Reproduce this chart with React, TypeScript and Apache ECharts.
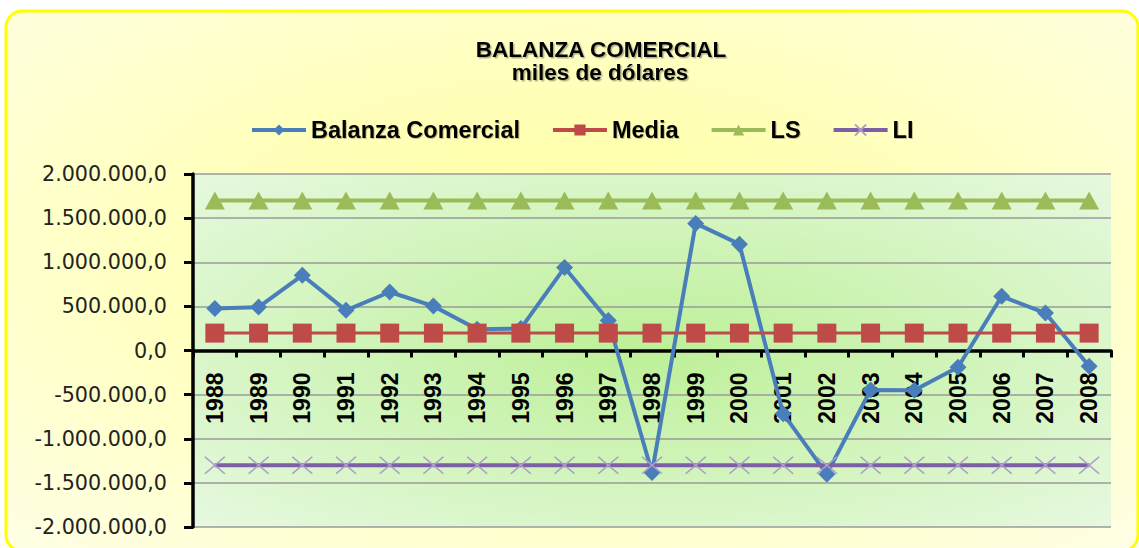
import React, { useEffect, useRef } from "react";
import * as echarts from "echarts";

const years = ["1988","1989","1990","1991","1992","1993","1994","1995","1996","1997","1998","1999","2000","2001","2002","2003","2004","2005","2006","2007","2008"];
const balanza = [475000, 492000, 852000, 455000, 663000, 503000, 240000, 250000, 940000, 340000, -1383000, 1440000, 1205000, -716000, -1401000, -447000, -450000, -190000, 614000, 424000, -178000];
const media = [197000, 197000, 197000, 197000, 197000, 197000, 197000, 197000, 197000, 197000, 197000, 197000, 197000, 197000, 197000, 197000, 197000, 197000, 197000, 197000, 197000];
const ls = [1700000, 1700000, 1700000, 1700000, 1700000, 1700000, 1700000, 1700000, 1700000, 1700000, 1700000, 1700000, 1700000, 1700000, 1700000, 1700000, 1700000, 1700000, 1700000, 1700000, 1700000];
const li = [-1300000, -1300000, -1300000, -1300000, -1300000, -1300000, -1300000, -1300000, -1300000, -1300000, -1300000, -1300000, -1300000, -1300000, -1300000, -1300000, -1300000, -1300000, -1300000, -1300000, -1300000];
const seriesNames = ["Balanza Comercial", "Media", "LS", "LI"];
const titleText = "BALANZA COMERCIAL";
const subtitleText = "miles de dólares";

function fmt(v: number): string {
  const neg = v < 0;
  const s = Math.abs(Math.round(v)).toString();
  const withDots = s.replace(/\B(?=(\d{3})+(?!\d))/g, ".");
  return (neg ? "-" : "") + withDots + ",0";
}

export default function App() {
  const ref = useRef<HTMLDivElement>(null);
  useEffect(() => {
    if (!ref.current) return;
    const chart = echarts.init(ref.current, undefined, { renderer: "svg" });
    const font = '"Liberation Sans", Arial, sans-serif';
    const gridTop = 174;
    const gridBottomPx = 527;
    const zeroY = (gridTop + gridBottomPx) / 2;
    chart.setOption({
      animation: false,
      graphic: [
        {
          type: "rect",
          z: -10,
          shape: { x: 6, y: 11, width: 1132, height: 540, r: 16 },
          style: {
            fill: new echarts.graphic.RadialGradient(0.5, 0.45, 0.75, [
              { offset: 0, color: "#ffff9c" },
              { offset: 1, color: "#ffffe6" },
            ]),
            stroke: "#ffff00",
            lineWidth: 3,
          },
        },
        {
          type: "text",
          z: 10,
          x: 601,
          y: 49,
          style: {
            text: titleText,
            textAlign: "center",
            textVerticalAlign: "middle",
            font: "bold 22.5px " + font,
            fill: "#000",
            textShadowColor: "rgba(0,0,0,0.3)",
            textShadowOffsetX: 1.5,
            textShadowOffsetY: 1.5,
            textShadowBlur: 1,
          },
        },
        {
          type: "text",
          z: 10,
          x: 600,
          y: 72.5,
          style: {
            text: subtitleText,
            textAlign: "center",
            textVerticalAlign: "middle",
            font: "bold 22.5px " + font,
            fill: "#000",
            textShadowColor: "rgba(0,0,0,0.3)",
            textShadowOffsetX: 1.5,
            textShadowOffsetY: 1.5,
            textShadowBlur: 1,
          },
        },
      ],
      legend: {
        data: seriesNames,
        left: 245,
        top: 113,
        itemWidth: 54,
        itemHeight: 14,
        itemGap: 31,
        lineStyle: { width: 4 },
        textStyle: {
          fontFamily: font,
          fontWeight: "bold",
          fontSize: 23.5,
          color: "#000",
          textShadowColor: "rgba(0,0,0,0.25)",
          textShadowOffsetX: 1,
          textShadowOffsetY: 1,
          textShadowBlur: 1,
        },
      },
      grid: {
        left: 193,
        right: 28,
        top: gridTop,
        bottom: 548 - gridBottomPx,
        containLabel: false,
        outerBoundsMode: "none",
        show: true,
        borderWidth: 0,
        backgroundColor: new echarts.graphic.RadialGradient(0.5, 0.5, 0.75, [
          { offset: 0, color: "#bdf098" },
          { offset: 1, color: "#e9f9e4" },
        ]),
      },
      xAxis: {
        type: "category",
        data: years,
        boundaryGap: true,
        offset: -(gridBottomPx - zeroY),
        axisLine: { show: true, onZero: false, lineStyle: { color: "#000", width: 3.5 } },
        axisTick: { show: true, length: 7, lineStyle: { color: "#000", width: 3 } },
        axisLabel: {
          interval: 0,
          rotate: 90,
          margin: 22,
          fontFamily: font,
          fontWeight: "bold",
          fontSize: 23,
          color: "#000",
        },
        splitLine: { show: false },
      },
      yAxis: {
        type: "value",
        min: -2000000,
        max: 2000000,
        interval: 500000,
        axisLine: { show: true, lineStyle: { color: "#000", width: 3.5 } },
        axisTick: { show: true, length: 9, lineStyle: { color: "#000", width: 3 } },
        axisLabel: {
          formatter: (v: number) => fmt(v),
          margin: 26,
          fontFamily: '"DejaVu Sans", Verdana, sans-serif',
          fontSize: 20.7,
          color: "#222",
        },
        splitLine: { show: true, lineStyle: { color: "#9a9a9a", width: 1.5 } },
      },
      series: [
        {
          name: seriesNames[0],
          type: "line",
          data: balanza,
          symbol: "diamond",
          symbolSize: 17,
          lineStyle: { color: "#4a7ebb", width: 4 },
          itemStyle: { color: "#4a7ebb" },
        },
        {
          name: seriesNames[1],
          type: "line",
          data: media,
          symbol: "rect",
          symbolSize: 19,
          lineStyle: { color: "#be4b48", width: 3 },
          itemStyle: { color: "#be4b48" },
        },
        {
          name: seriesNames[2],
          type: "line",
          data: ls,
          symbol: "triangle",
          symbolSize: [20, 18],
          lineStyle: { color: "#9bbb59", width: 4 },
          itemStyle: { color: "#9bbb59" },
        },
        {
          name: seriesNames[3],
          type: "line",
          data: li,
          symbol: "path://M0,0L10,10M10,0L0,10",
          symbolSize: [20, 17],
          lineStyle: { color: "#7d5fa6", width: 4 },
          itemStyle: { color: "none", borderColor: "#ae9ccc", borderWidth: 1.5 },
        },
      ],
    });
    return () => chart.dispose();
  }, []);
  return (
    <div
      ref={ref}
      style={{ position: "absolute", left: 0, top: 0, width: 1139, height: 548 }}
    />
  );
}
